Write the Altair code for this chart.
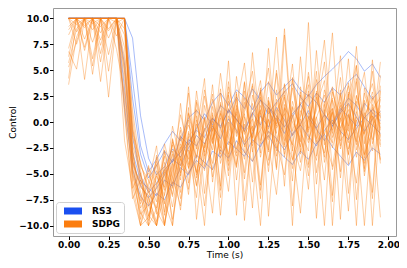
import altair as alt
import pandas as pd

times = [round(i * 0.05, 2) for i in range(40)]

# SDPG runs (orange)
sdpg_1 = [10, 10, 10, 10, 10, 10, 10, 2.1, -5.3, -7.6, -4.2, -8.9, -2.7, -6.4, -0.8, -4.1, 1.9, -3.3, 0.4, -6.2, 2.6, -1.4, 3.8, -2.9, 0.7, 5.2, -1.9, 1.3, -5.7, 2.9, -0.6, 4.1, -2.2, 1.0, -4.8, 2.4, 5.5, -1.1, 0.9, -2.4]
sdpg_2 = [8.4, 10, 6.9, 10, 9.2, 10, 10, 10, -3.1, -6.8, -9.5, -5.2, -7.1, -1.6, -4.9, 0.8, -2.6, 3.1, -0.9, 1.7, -3.8, 4.4, -1.2, 0.3, -7.4, 2.1, -0.2, 3.6, -2.8, 6.3, -1.7, 0.5, -3.4, 3.2, -0.7, -8.6, 1.4, 4.8, -2.1, 1.6]
sdpg_3 = [5.3, 7.8, 10, 4.6, 10, 8.1, 10, -1.8, -6.4, -4.9, -10, -3.2, -6.6, -0.4, -3.7, 2.8, -5.4, 0.2, -2.1, 4.7, -0.8, -4.3, 1.9, -1.6, 3.3, -9.1, 0.6, -2.4, 4.1, -0.3, -5.2, 2.2, 7.9, -1.5, 0.9, -3.1, 2.6, -0.5, -6.8, 3.5]
sdpg_4 = [10, 10, 10, 10, 10, 10, 10, 6.2, -2.5, -8.3, -6.7, -4.1, -10, -2.8, -5.6, 0.9, -1.8, -4.7, 2.2, -0.6, -3.1, 1.5, 5.7, -2.3, -0.1, 1.8, -4.6, 3.7, 0.4, -1.9, 2.7, -9.3, 0.8, 3.4, -1.2, 6.1, -2.7, 0.3, 2.9, -0.8]
sdpg_5 = [7.1, 10, 9.3, 10, 5.8, 10, 9.6, 10, 0.4, -5.5, -8.1, -10, -4.3, -7.2, -1.5, -3.6, 1.2, -6.9, -0.3, -2.5, 3.9, -1.1, 0.8, -5.8, 2.4, -0.7, 8.2, -2.2, 1.4, -3.9, 0.1, 2.8, -1.6, -7.7, 1.9, -0.4, 4.2, -3.5, 0.6, -1.3]
sdpg_6 = [10, 8.7, 10, 10, 7.4, 10, 10, 10, -4.4, -7.9, -5.8, -2.3, -8.7, -3.9, 0.7, -2.4, -6.1, 1.6, -1.7, 0.9, -4.2, 2.7, -9.5, -0.5, 1.2, -2.7, 3.1, -1.3, -3.6, 0.5, 4.4, -2.1, -0.3, 2.3, -5.4, 0.7, -1.9, 2.1, -10, 0.9]
sdpg_7 = [4.2, 10, 10, 8.9, 10, 6.5, 10, 4.8, -3.8, -6.2, -7.4, -9.6, -5.1, -2.2, -6.8, -0.9, -3.4, 2.5, -1.2, -7.3, 0.6, -2.6, 1.3, 4.9, -1.8, 0.3, -3.3, 1.7, -10, 3.4, -0.8, 1.1, 5.8, -2.5, 0.4, -1.4, -5.9, 1.5, 3.7, -0.6]
sdpg_8 = [10, 10, 9.1, 10, 10, 10, 8.3, 10, -1.3, -4.7, -9.1, -6.3, -3.3, -10, -2.1, -4.4, -0.2, -2.9, 3.6, -3.5, -0.5, 2.2, -2.4, 0.9, -6.1, 1.4, -1.1, 9.0, -0.9, 1.9, -4.1, 0.4, 2.6, -1.1, 4.3, -2.6, 0.2, -4.5, 1.1, 2.4]
sdpg_9 = [6.8, 5.1, 10, 10, 3.9, 10, 10, 1.2, -6.9, -10, -6.1, -3.8, -7.9, -4.7, -1.3, -5.9, 2.1, -1.4, -4.0, 1.1, -2.2, 0.3, -4.9, 2.6, -0.4, -1.7, 1.2, -3.1, 2.0, -0.7, -6.5, 3.0, -1.2, 0.9, -2.3, 3.8, -0.9, -10, 0.6, -3.7]
sdpg_10 = [10, 10, 10, 7.7, 10, 10, 10, 10, 1.1, -4.3, -5.6, -7.7, -2.1, -5.3, -8.1, -1.1, -3.5, 0.4, -5.3, -1.3, 2.0, -0.8, -3.6, 1.8, -2.1, 3.9, -0.6, 0.8, -2.4, -8.8, 0.9, -1.6, 3.1, -0.2, 1.6, -3.2, 2.5, 0.1, -2.8, 4.5]
sdpg_11 = [9.2, 10, 7.2, 10, 10, 8.8, 10, 5.5, -5.7, -8.8, -10, -4.7, -6.3, -1.9, -4.2, 1.4, -9.4, -2.3, 0.1, -3.1, 1.3, -5.6, 0.5, -1.5, 2.9, -3.7, 0.4, -1.8, 3.3, -0.9, -2.8, 6.9, -1.7, -4.3, 0.3, 1.7, -2.2, 2.8, -0.3, -9.2]
sdpg_12 = [10, 10, 10, 10, 10, 10, 10, 8.4, -0.7, -3.9, -6.8, -8.3, -4.6, -8.2, -3.3, -6.5, 0.6, -4.3, 1.5, -1.9, -6.7, 1.6, -1.0, 3.7, -3.4, 0.2, -2.5, 2.4, -1.3, 0.6, 3.6, -4.9, 0.2, 1.3, -1.8, -0.6, 7.3, -2.1, 1.4, -0.2]
sdpg_13 = [3.6, 8.2, 10, 6.1, 10, 2.4, 10, 10, -2.2, -5.1, -7.8, -10, -5.6, -3.1, -7.4, -2.7, -4.8, -0.6, -2.7, 2.8, -1.4, -3.3, 2.3, -0.9, 1.1, -4.8, 2.2, -0.4, -2.2, 1.1, -1.2, -3.7, 1.7, -0.8, 2.6, -6.9, 0.5, -1.2, 4.9, -1.5]
sdpg_14 = [10, 9.4, 10, 10, 8.6, 10, 10, 7.2, -4.8, -9.4, -4.4, -5.9, -9.8, -6.1, -2.6, -0.3, -2.2, -8.1, -1.6, 0.4, -5.2, 0.8, -2.1, -3.8, 1.6, -1.1, 4.7, -3.4, 0.7, -2.4, 1.5, -0.9, -10, 2.1, -0.6, 1.2, -3.4, 0.9, -1.7, 2.2]
sdpg_15 = [10, 10, 10, 10, 10, 10, 10, 3.9, -6.1, -10, -7.3, -3.4, -9.0, -1.7, -5.2, 3.4, -3.9, -10, 0.9, -2.8, 5.9, -4.1, -0.2, -8.3, 3.1, -1.5, 1.9, -6.2, 4.3, -2.9, 9.6, -3.3, 1.2, -7.1, 2.8, -0.9, 5.4, -4.8, 1.7, -3.6]
sdpg_16 = [6.3, 10, 4.1, 10, 7.9, 10, 10, 10, -5.0, -7.2, -10, -8.4, -2.9, -6.0, 1.8, -4.5, -1.0, 4.2, -5.8, -0.7, 2.9, -9.0, 1.0, 3.5, -3.0, 7.1, -2.0, -5.1, 1.5, -0.4, 3.0, -6.0, 0.7, 8.6, -2.6, 0.8, -10, 3.3, 0.2, -1.8]
sdpg_17 = [10, 10, 8.0, 10, 10, 9.0, 10, 0.8, -7.4, -5.6, -9.0, -10, -6.9, -4.0, -8.5, -1.4, -6.2, -2.0, -4.6, 1.9, -3.4, 2.9, -7.6, -1.2, 0.9, -2.9, 5.0, -0.6, -4.5, 2.6, -1.0, 4.9, -3.9, -0.2, 6.4, -1.6, 2.0, -5.2, -0.4, 1.1]
sdpg_18 = [10, 7.5, 10, 10, 10, 4.9, 10, 9.0, -1.0, -4.0, -6.5, -8.6, -10, -4.4, -2.4, -7.0, 0.2, -3.0, -8.8, 0.8, -1.6, -4.4, 3.9, -2.6, -10, 1.1, -0.4, 2.6, -3.7, -1.4, 4.8, -0.6, -3.0, 1.3, -9.4, 2.7, -0.8, -3.2, 6.0, -2.2]
sdpg_19 = [10, 10, 10, 10, 6.6, 10, 10, 10, -2.7, -8.9, -8.0, -5.0, -7.7, -10, -3.6, -5.0, 3.0, -2.5, 0.7, -6.6, 3.4, 0.0, -3.0, 6.7, -1.0, -4.2, 0.9, 3.0, -8.1, 0.3, -2.0, 1.6, 4.0, -4.6, -1.3, 2.9, -7.5, 0.6, 2.3, -4.0]
sdpg_20 = [5.7, 9.0, 10, 10, 10, 10, 7.0, 2.7, -4.1, -6.0, -4.9, -7.0, -10, -5.3, -0.5, -3.0, -7.3, 0.5, -2.0, 3.2, -4.7, 1.3, -1.9, -0.4, -6.6, 2.0, -2.8, 0.1, 5.6, -3.1, 0.5, -1.9, 2.0, -10, 1.0, 3.5, -1.6, -4.0, 2.5, 0.4]
sdpg_21 = [10, 10, 10, 9.5, 10, 10, 10, 5.0, -3.4, -10, -9.2, -6.0, -4.8, -9.4, -4.9, -2.0, -4.9, -0.8, 2.7, -4.0, -1.0, 1.0, -5.5, 0.6, 4.0, -2.2, -7.0, 1.4, 0.0, -1.6, -4.4, 2.4, -0.5, -2.0, 3.1, -4.1, 1.0, -1.4, -7.4, 3.0]
sdpg_22 = [8.9, 10, 10, 5.4, 10, 10, 10, 10, -0.3, -6.3, -7.1, -10, -3.9, -7.0, -2.9, 0.2, -5.1, -3.5, -0.6, -9.0, 0.0, -3.0, 3.0, -2.0, -0.8, 2.4, -4.4, 8.4, -1.9, -4.7, 0.6, -0.2, -5.6, 2.9, 0.1, -2.0, 3.9, -3.1, -0.9, 5.8]

# RS3 runs (blue)
rs3_1 = [10, 10, 10, 10, 10, 10, 10, 10, -1.5, -5.2, -6.8, -5.9, -4.6, -3.8, -2.9, -1.7, -2.3, -0.8, 0.4, -0.6, 1.2, 0.3, -0.9, 0.8, 2.1, 1.4, 0.2, -1.1, 0.5, 1.7, 2.6, 1.9, 0.7, -0.4, 1.1, 2.3, 1.6, 0.4, 1.2, 0.6]
rs3_2 = [10, 10, 10, 10, 10, 10, 10, 3.2, -3.8, -6.1, -7.3, -6.4, -5.1, -3.6, -4.2, -2.5, -1.3, -2.1, -0.4, -1.6, 0.3, -0.8, -2.2, -1.1, 0.6, -0.5, 1.4, 0.2, -1.3, -0.2, 1.1, -0.7, -1.8, -0.4, 0.9, 1.8, 0.5, -0.9, 0.3, 1.0]
rs3_3 = [10, 10, 10, 10, 10, 10, 10, 10, 4.1, -2.3, -4.8, -3.6, -2.1, -0.9, -1.8, 0.4, 1.1, 0.2, 1.9, 2.8, 1.6, 3.1, 2.4, 1.2, 2.9, 3.8, 2.6, 3.4, 4.2, 3.1, 2.5, 3.6, 4.4, 5.1, 5.9, 6.8, 6.1, 4.9, 5.6, 4.3]
rs3_4 = [10, 10, 10, 10, 10, 10, 10, 1.4, -4.6, -7.2, -8.1, -6.9, -7.5, -5.8, -6.3, -4.9, -3.7, -4.5, -2.8, -3.4, -1.9, -2.6, -3.3, -1.7, -2.4, -0.9, -1.6, -2.7, -1.1, -0.3, -1.4, -2.3, -0.8, 0.2, -0.9, -1.7, -0.6, 0.4, -0.3, -1.1]
rs3_5 = [10, 10, 10, 10, 10, 10, 10, 10, 2.3, -3.1, -5.4, -4.2, -2.8, -3.9, -1.4, -2.2, -0.6, 0.8, -0.3, 1.6, 0.9, 2.4, 1.3, 3.2, 2.1, 0.8, 1.9, 2.9, 3.7, 2.4, 1.5, 2.8, 1.9, 3.3, 2.6, 3.9, 4.6, 3.4, 2.2, 3.1]
rs3_6 = [10, 10, 10, 10, 10, 10, 10, 5.6, -2.9, -5.7, -6.4, -7.1, -5.6, -6.2, -4.4, -5.1, -3.2, -3.9, -4.6, -2.7, -3.5, -1.8, -2.9, -3.8, -2.2, -1.3, -2.6, -3.4, -4.1, -2.8, -3.6, -2.1, -1.2, -2.4, -3.3, -4.2, -2.9, -3.7, -2.5, -3.1]
rs3_7 = [10, 10, 10, 10, 10, 10, 10, 10, 8.1, 0.6, -3.5, -5.1, -4.3, -2.6, -3.4, -1.9, -0.8, -1.5, 0.3, -0.4, 1.1, 0.2, -0.7, 0.9, -0.3, 1.4, 0.6, -0.5, 0.8, 1.7, 0.4, -0.6, 0.7, -0.2, 1.3, 0.5, -0.4, 1.8, 0.9, 0.1]

methods = ["RS3", "SDPG"]
colors = ["#1a4ff0", "#fb7d0f"]

runs = [("RS3", r) for r in [rs3_1, rs3_2, rs3_3, rs3_4, rs3_5, rs3_6, rs3_7]] + \
       [("SDPG", r) for r in [sdpg_1, sdpg_2, sdpg_3, sdpg_4, sdpg_5, sdpg_6, sdpg_7,
                              sdpg_8, sdpg_9, sdpg_10, sdpg_11, sdpg_12, sdpg_13, sdpg_14,
                              sdpg_15, sdpg_16, sdpg_17, sdpg_18, sdpg_19, sdpg_20,
                              sdpg_21, sdpg_22]]

rows = []
for k, (m, vals) in enumerate(runs):
    assert len(vals) == len(times), f"run {k} ({m}) has {len(vals)} values"
    for t, v in zip(times, vals):
        rows.append({"t": t, "v": v, "run": k, "method": m, "order": 0 if m == "RS3" else 1})
df = pd.DataFrame(rows)

chart = alt.Chart(df).mark_line(strokeWidth=1, clip=True, opacity=0.38).encode(
    x=alt.X("t:Q", title="Time (s)",
            scale=alt.Scale(domain=[-0.0975, 2.0475], nice=False, zero=False),
            axis=alt.Axis(values=[0, 0.25, 0.5, 0.75, 1.0, 1.25, 1.5, 1.75, 2.0], format=".2f")),
    y=alt.Y("v:Q", title="Control",
            scale=alt.Scale(domain=[-11, 11], nice=False),
            axis=alt.Axis(values=[-10, -7.5, -5, -2.5, 0, 2.5, 5, 7.5, 10], format=".1f")),
    color=alt.Color("method:N", title=None,
                    scale=alt.Scale(domain=methods, range=colors),
                    legend=alt.Legend(orient="bottom-left", offset=3,
                                      symbolType="M-2,0H2", symbolSize=81,
                                      symbolOffset=5, labelOffset=11,
                                      symbolOpacity=1, symbolStrokeWidth=7,
                                      clipHeight=10,
                                      labelFont="DejaVu Sans", labelFontWeight="bold",
                                      labelFontSize=9, labelColor="black",
                                      fillColor="white", strokeColor="#d0d0d0",
                                      cornerRadius=3, padding=4, rowPadding=3)),
    detail="run:N",
    order=alt.Order("order:Q"),
).properties(
    width=391, height=252,
    autosize=alt.AutoSizeParams(type="fit", contains="padding"),
    padding=0,
).configure_view(
    stroke="#999999", strokeWidth=1
).configure_axis(
    grid=False, domain=False,
    labelFont="DejaVu Sans", labelFontWeight="bold", labelFontSize=9, labelColor="black",
    titleFont="DejaVu Sans", titleFontWeight="normal", titleFontSize=9, titleColor="black",
    tickColor="black", tickSize=3.5, labelPadding=1, titlePadding=1,
)

chart.save("out.html", embed_options={"renderer": "svg", "actions": False})
